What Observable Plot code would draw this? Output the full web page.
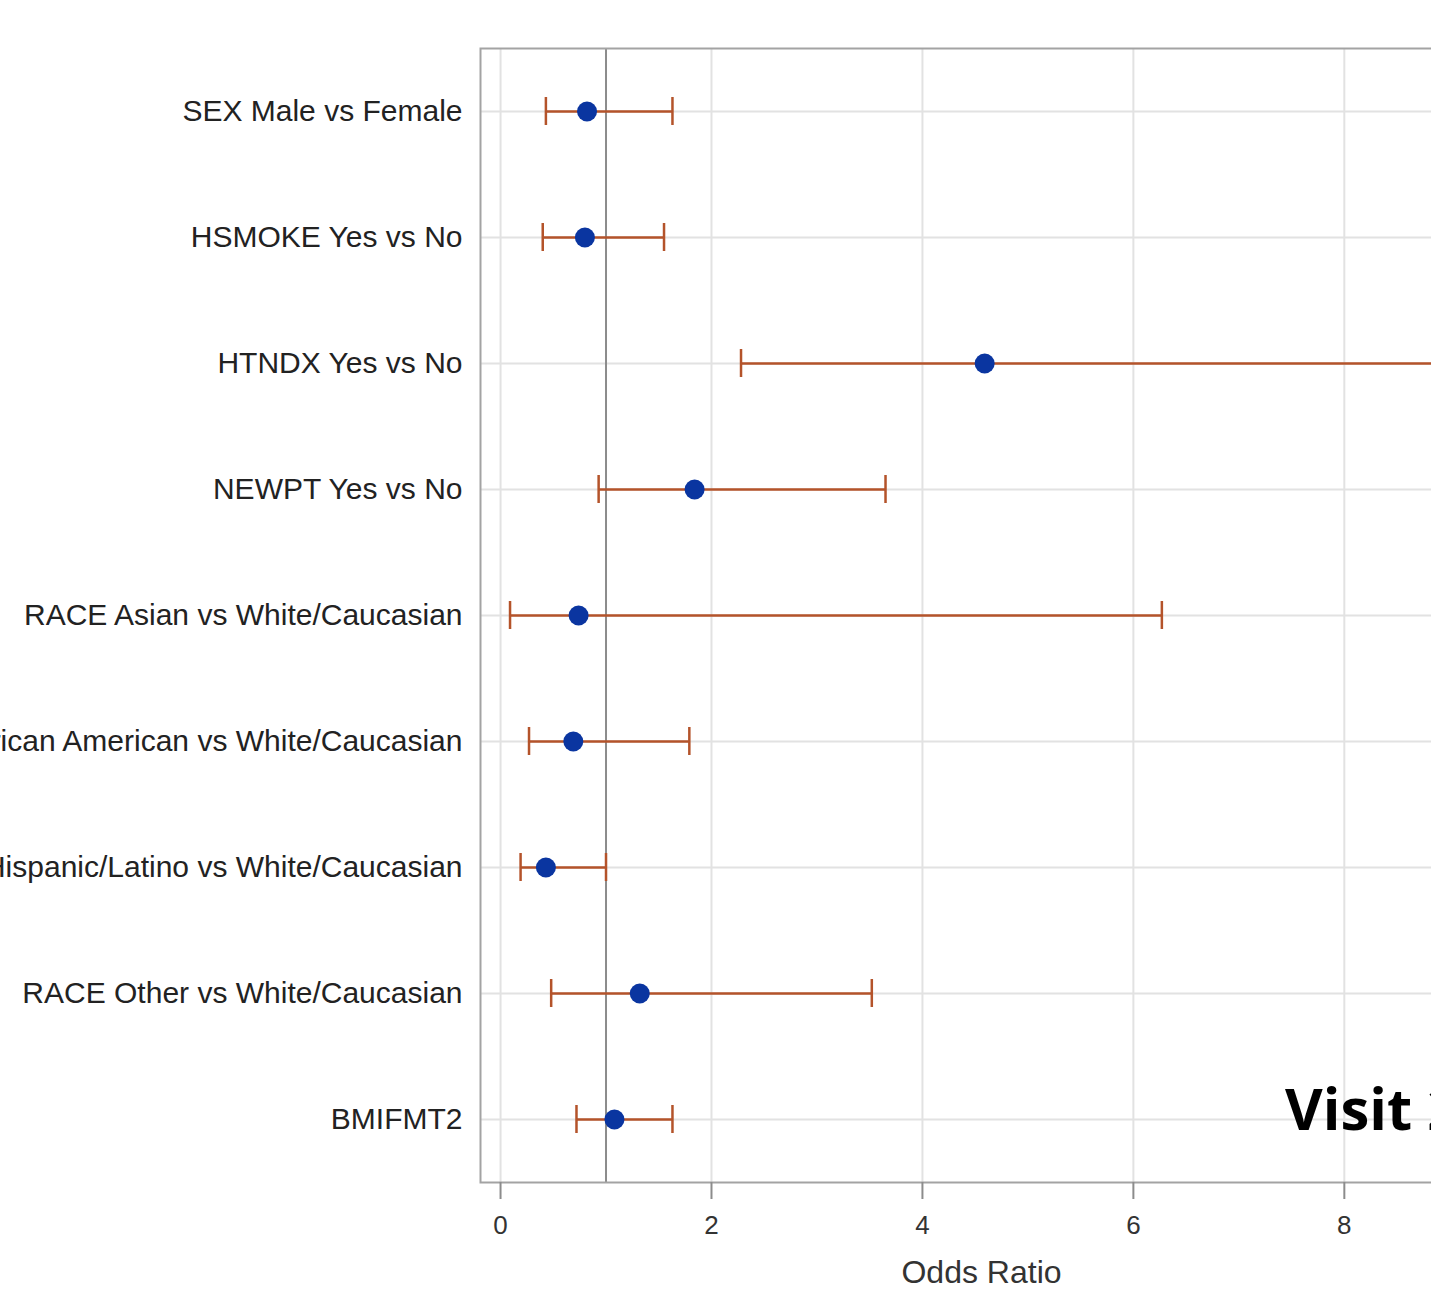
<!DOCTYPE html>
<html>
<head>
<meta charset="utf-8">
<script src="https://cdn.jsdelivr.net/npm/d3@7"></script>
<script src="https://cdn.jsdelivr.net/npm/@observablehq/plot@0.6"></script>
<style>
  html, body { margin: 0; padding: 0; background: white; overflow: hidden; width: 1431px; height: 1300px; }
  #wrap { position: relative; width: 1431px; height: 1300px; overflow: hidden; }
  #chart { position: absolute; left: 0; top: 0; }
  #visit { position: absolute; left: 1285px; top: 1079px; font-family: "Open Sans", sans-serif; font-weight: 700; font-size: 58px; line-height: 58px; color: #000; white-space: nowrap; }
</style>
</head>
<body>
<div id="wrap">
  <div id="chart"></div>
  <div id="visit">Visit 2</div>
</div>
<script>
const labels = [
  "SEX Male vs Female",
  "HSMOKE Yes vs No",
  "HTNDX Yes vs No",
  "NEWPT Yes vs No",
  "RACE Asian vs White/Caucasian",
  "RACE Black/African American vs White/Caucasian",
  "RACE Hispanic/Latino vs White/Caucasian",
  "RACE Other vs White/Caucasian",
  "BMIFMT2"
];
const oddsRatio = [0.82, 0.80, 4.59, 1.84, 0.74, 0.69, 0.43, 1.32, 1.08];
const lowerCL   = [0.43, 0.40, 2.28, 0.93, 0.09, 0.27, 0.19, 0.48, 0.72];
const upperCL   = [1.63, 1.55, 9.20, 3.65, 6.27, 1.79, 1.00, 3.52, 1.63];
const xTicks = [0, 2, 4, 6, 8];
const refValue = [1];
const axisTitle = "Odds Ratio";

const data = labels.map((label, i) => ({label, or: oddsRatio[i], lo: lowerCL[i], hi: upperCL[i]}));

const barColor = "#b4532a";
const dotColor = "#0a35a0";

const chart = Plot.plot({
  width: 1500,
  height: 1300,
  marginLeft: 480,
  marginRight: 18,
  marginTop: 48,
  marginBottom: 118,
  style: {fontFamily: "'Liberation Sans', Arial, sans-serif", maxWidth: "none", background: "white"},
  x: {domain: [-0.19, 9.31]},
  y: {type: "band", domain: labels, padding: 0},
  marks: [
    Plot.gridX(xTicks, {stroke: "#e2e2e2", strokeOpacity: 1, strokeWidth: 2}),
    Plot.gridY(labels, {stroke: "#e2e2e2", strokeOpacity: 1, strokeWidth: 2}),
    Plot.ruleX(refValue, {stroke: "#8c8c8c", strokeWidth: 2}),
    Plot.frame({stroke: "#a3a3a3", strokeWidth: 2}),
    Plot.ruleY(data, {y: "label", x1: "lo", x2: "hi", stroke: barColor, strokeWidth: 2.5}),
    Plot.tickX(data, {x: "lo", y: "label", insetTop: 49, insetBottom: 49, stroke: barColor, strokeWidth: 2.5}),
    Plot.tickX(data, {x: "hi", y: "label", insetTop: 49, insetBottom: 49, stroke: barColor, strokeWidth: 2.5}),
    Plot.dot(data, {x: "or", y: "label", r: 10, fill: dotColor, stroke: "none"}),
    Plot.axisX(xTicks, {tickSize: 17, tickPadding: 16, fontSize: 26, stroke: "#8c8c8c", strokeWidth: 2, fill: "#333", label: null}),
    Plot.axisY({tickSize: 0, tickPadding: 18, fontSize: 30, fill: "#222", label: null}),
    Plot.text([axisTitle], {frameAnchor: "bottom", dy: 90, fontSize: 32, fill: "#333", lineAnchor: "middle"})
  ]
});
document.getElementById("chart").appendChild(chart);
</script>
</body>
</html>
